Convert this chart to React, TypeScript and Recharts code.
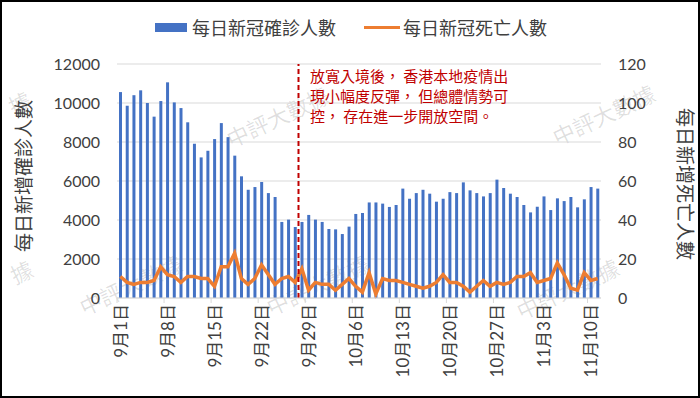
import { ComposedChart, Bar, Line, XAxis, YAxis, CartesianGrid, ReferenceLine } from 'recharts';

// Sep 1 - Nov 11
const months = [9, 10, 11];
const monthDays = [30, 31, 11];
const dates: string[] = [];
months.forEach((m, i) => {
  for (let d = 1; d <= monthDays[i]; d++) dates.push(`${m}月${d}日`);
});

const cases = [
  10560, 9860, 10400, 10650, 10000, 9300, 10100, 11060, 10030, 9740,
  9010, 7910, 7210, 7550, 8150, 8970, 8250, 7300, 6240, 5550,
  5690, 5950, 5380, 5180, 3900, 4020, 3640, 3900, 4260, 4020,
  3900, 3540, 3520, 3280, 3660, 4310, 4360, 4900, 4900, 4840,
  4670, 4770, 5610, 5090, 5380, 5550, 5350, 4940, 5090, 5430,
  5380, 5930, 5520, 5380, 5210, 5380, 6070, 5640, 5350, 5180,
  4770, 4390, 4680, 5210, 4510, 5110, 4970, 5180, 4650, 5060,
  5690, 5610,
];

const deaths = [
  11, 8, 7, 8, 8, 9, 16, 12, 11, 8,
  11, 11, 10, 10, 6, 16, 16, 23, 10, 7,
  10, 17, 12, 7, 10, 11, 8, 15, 4, 8,
  7, 7, 4, 7, 10, 6, 3, 13, 2, 10,
  9, 9, 8, 7, 6, 5, 6, 8, 12, 8,
  8, 6, 3, 6, 9, 6, 8, 7, 8, 11,
  11, 13, 8, 9, 10, 18, 12, 5, 4, 13,
  9, 10,
];

const leftTicks = [0, 2000, 4000, 6000, 8000, 10000, 12000];
const rightTicks = [0, 20, 40, 60, 80, 100, 120];

const noteLines = ['放寬入境後， 香港本地疫情出', '現小幅度反彈， 但總體情勢可', '控， 存在進一步開放空間。'];

const watermarks = [
  { x: 222, y: 100, t: '中評大數據' }, { x: 548, y: 98, t: '中評大數據' },
  { x: 75, y: 268, t: '中評大數據' }, { x: 262, y: 268, t: '中評大數據' },
  { x: 512, y: 272, t: '中評大數據' }, { x: 8, y: 86, t: '據' }, { x: 10, y: 255, t: '據' },
];

const data = dates.map((date, i) => ({ date, cases: cases[i], deaths: deaths[i] }));

const FONT = "Lato, 'Noto Sans CJK TC', sans-serif";
const CJK = "'Noto Sans CJK TC', sans-serif";

const XTick = ({ x, y, payload }: any) => {
  const half = 484 / dates.length / 2;
  return (
    <g>
      <line x1={x - half} x2={x - half} y1={y} y2={y + 5} stroke="#d9d9d9" />
      <text
        x={x}
        y={y + 6}
        transform={`rotate(-90, ${x}, ${y + 6})`}
        textAnchor="end"
        dominantBaseline="central"
        fontSize={17}
        fill="#404040"
        fontFamily={FONT}
      >
        {payload.value}
      </text>
    </g>
  );
};

export default function App() {
  return (
    <div style={{ position: 'absolute', left: 0, top: 0, width: 700, height: 398, background: '#fff', fontFamily: FONT, overflow: 'hidden' }}>
      {watermarks.map((w, i) => (
        <div
          key={i}
          style={{
            position: 'absolute', left: w.x, top: w.y, fontSize: 22, color: 'rgba(0,0,0,0.13)',
            fontFamily: CJK, transform: 'rotate(-25deg)', whiteSpace: 'nowrap', pointerEvents: 'none',
          }}
        >
          {w.t}
        </div>
      ))}

      <div style={{ position: 'absolute', left: 155, top: 14, display: 'flex', alignItems: 'center', fontFamily: CJK, fontSize: 18, color: '#404040' }}>
        <span style={{ display: 'inline-block', width: 32, height: 9, background: '#4472c4', marginRight: 5 }} />
        <span>每日新冠確診人數</span>
        <span style={{ display: 'inline-block', width: 36, height: 3, background: '#ed7d31', marginLeft: 28, marginRight: 3 }} />
        <span>每日新冠死亡人數</span>
      </div>

      <ComposedChart width={700} height={398} data={data} margin={{ top: 64, right: 0, bottom: 0, left: 0 }}>
        <CartesianGrid yAxisId="left" vertical={false} stroke="#d9d9d9" />
        <XAxis
          dataKey="date"
          interval={6}
          height={100}
          tickLine={false}
          tickSize={0}
          tickMargin={0}
          axisLine={{ stroke: '#d9d9d9' }}
          tick={<XTick />}
        />
        <YAxis
          yAxisId="left"
          width={117}
          domain={[0, 12000]}
          ticks={leftTicks}
          axisLine={false}
          tickLine={false}
          tickSize={0}
          tickMargin={17}
          tick={{ fontSize: 16, fill: '#404040', fontFamily: FONT }}
        />
        <YAxis
          yAxisId="right"
          orientation="right"
          width={99}
          domain={[0, 120]}
          ticks={rightTicks}
          axisLine={false}
          tickLine={false}
          tickSize={0}
          tickMargin={17}
          tick={{ fontSize: 16, fill: '#404040', fontFamily: FONT }}
        />
        <Bar yAxisId="left" dataKey="cases" fill="#4472c4" barSize={3} isAnimationActive={false} />
        <Line
          yAxisId="right"
          type="linear"
          dataKey="deaths"
          stroke="#ed7d31"
          strokeWidth={3.5}
          dot={false}
          isAnimationActive={false}
        />
        <ReferenceLine
          yAxisId="left"
          x="9月28日"
          position="start"
          stroke="#c00000"
          strokeWidth={2}
          strokeDasharray="5 3"
        />
      </ComposedChart>

      <div style={{ position: 'absolute', left: 310, top: 66, fontFamily: CJK, fontSize: 15, lineHeight: '20px', color: '#c00000', whiteSpace: 'pre' }}>
        {noteLines.map((t, i) => (
          <div key={i}>{t}</div>
        ))}
      </div>

      <div
        style={{
          position: 'absolute', left: 22, top: 176, transform: 'translate(-50%, -50%) rotate(-90deg)',
          fontFamily: CJK, fontSize: 19, color: '#404040', whiteSpace: 'nowrap',
        }}
      >
        每日新增確診人數
      </div>
      <div
        style={{
          position: 'absolute', left: 686, top: 184, transform: 'translate(-50%, -50%) rotate(90deg)',
          fontFamily: CJK, fontSize: 19, color: '#404040', whiteSpace: 'nowrap',
        }}
      >
        每日新增死亡人數
      </div>

      <div style={{ position: 'absolute', left: 0, top: 0, width: 700, height: 398, boxSizing: 'border-box', border: '2px solid #000', pointerEvents: 'none' }} />
    </div>
  );
}
